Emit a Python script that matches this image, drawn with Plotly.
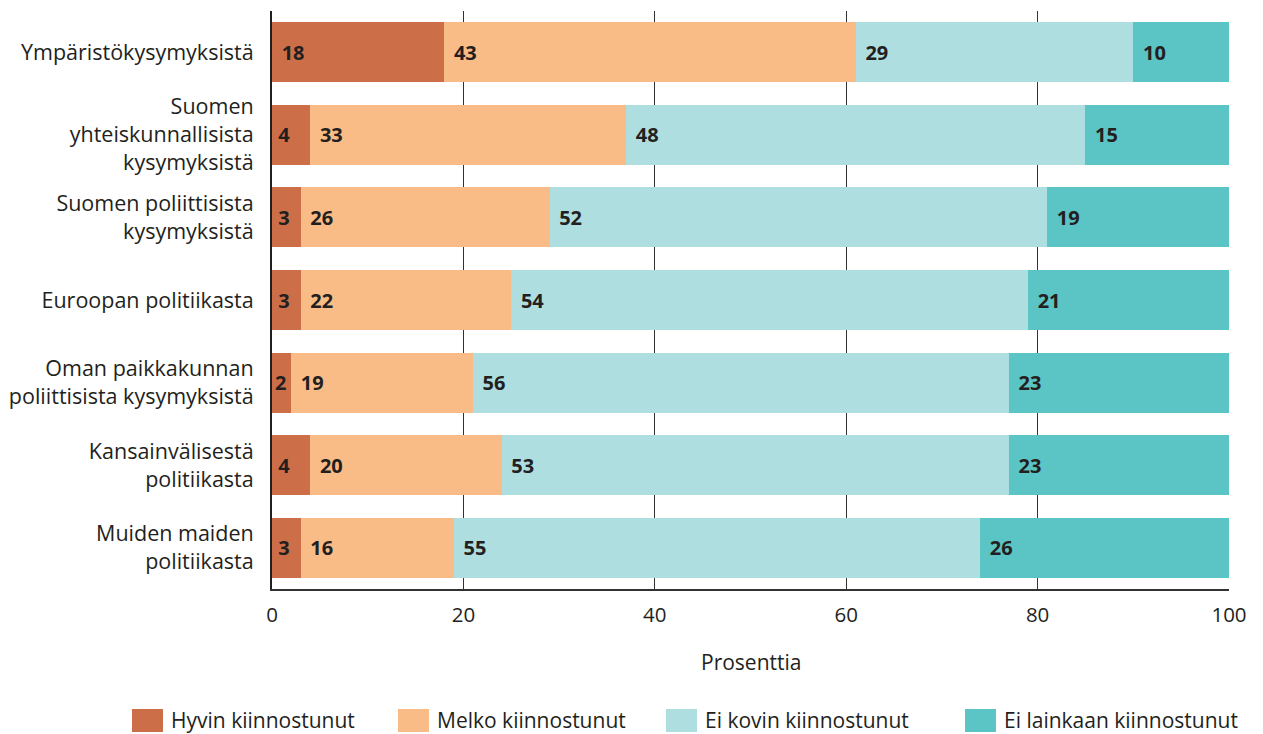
import plotly.graph_objects as go

categories = [
    "Ympäristökysymyksistä",
    "Suomen<br>yhteiskunnallisista<br>kysymyksistä",
    "Suomen poliittisista<br>kysymyksistä",
    "Euroopan politiikasta",
    "Oman paikkakunnan<br>poliittisista kysymyksistä",
    "Kansainvälisestä<br>politiikasta",
    "Muiden maiden<br>politiikasta",
]
series_names = ["Hyvin kiinnostunut", "Melko kiinnostunut", "Ei kovin kiinnostunut", "Ei lainkaan kiinnostunut"]
hyvin = [18, 4, 3, 3, 2, 4, 3]
melko = [43, 33, 26, 22, 19, 20, 16]
ei_kovin = [29, 48, 52, 54, 56, 53, 55]
ei_lainkaan = [10, 15, 19, 21, 23, 23, 26]
colors = ["#CC6F49", "#F9BC87", "#AEDEE0", "#5BC4C5"]
x_ticks = [0, 20, 40, 60, 80, 100]

FONT = "Open Sans"
TXT = "#231f20"
W, H = 1263, 734
ML, MR, MT, MB = 272, 34, 11, 145
PW = W - ML - MR
PH = H - MT - MB


def px(xf):
    return (xf - ML) / PW


def py(yf):
    return (H - MB - yf) / PH


def label_tpl(v):
    # small leading gap inside the bar, narrower for very short bars
    if v <= 2:
        pad = ""
    elif v < 10:
        pad = "\u2009"
    else:
        pad = "\u2009\u2009"
    return pad + "<b>%{x}</b>"


fig = go.Figure()
for name, vals, col in zip(series_names, [hyvin, melko, ei_kovin, ei_lainkaan], colors):
    fig.add_trace(go.Bar(
        y=categories, x=vals, name=name, orientation="h",
        marker=dict(color=col, line=dict(width=0)),
        text=vals, texttemplate=[label_tpl(v) for v in vals],
        textposition="inside", insidetextanchor="start",
        textfont=dict(family=FONT, size=20, color=TXT),
        showlegend=False,
    ))

# legend drawn as squares + labels below the chart
legend_x = [132, 398, 666, 965]
shapes = []
annotations = []
for name, col, lx in zip(series_names, colors, legend_x):
    shapes.append(dict(type="rect", xref="paper", yref="paper",
                       x0=px(lx), x1=px(lx + 31), y0=py(732), y1=py(709),
                       fillcolor=col, line=dict(width=0)))
    annotations.append(dict(text=name, xref="paper", yref="paper",
                            x=px(lx + 37), y=py(720), xanchor="left", yanchor="middle",
                            showarrow=False, font=dict(family=FONT, size=21, color=TXT)))
annotations.append(dict(text="Prosenttia", xref="paper", yref="paper",
                        x=0.5, y=py(662), xanchor="center", yanchor="middle",
                        showarrow=False, font=dict(family=FONT, size=21, color=TXT)))

fig.update_layout(
    barmode="stack", bargap=0.274,
    width=W, height=H,
    margin=dict(l=ML, r=MR, t=MT, b=MB, autoexpand=False),
    plot_bgcolor="white", paper_bgcolor="white",
    font=dict(family=FONT, size=21, color=TXT),
    uniformtext=dict(minsize=20, mode="show"),
    showlegend=False,
    shapes=shapes, annotations=annotations,
)
fig.update_xaxes(
    range=[0, 100], tickvals=x_ticks, showgrid=True, gridcolor="#333132", gridwidth=1.2,
    showline=True, linecolor="#333132", linewidth=1.5, ticks="", ticklabelstandoff=7,
    tickfont=dict(size=20.5), zeroline=False,
)
fig.update_yaxes(
    autorange="reversed", showline=True, linecolor="#231f20", linewidth=2,
    ticks="", ticklabelstandoff=12, showgrid=False, tickfont=dict(size=21.5),
)
fig.write_html("out.html", config={"displayModeBar": False},
               post_script="document.body.style.margin='0';")
